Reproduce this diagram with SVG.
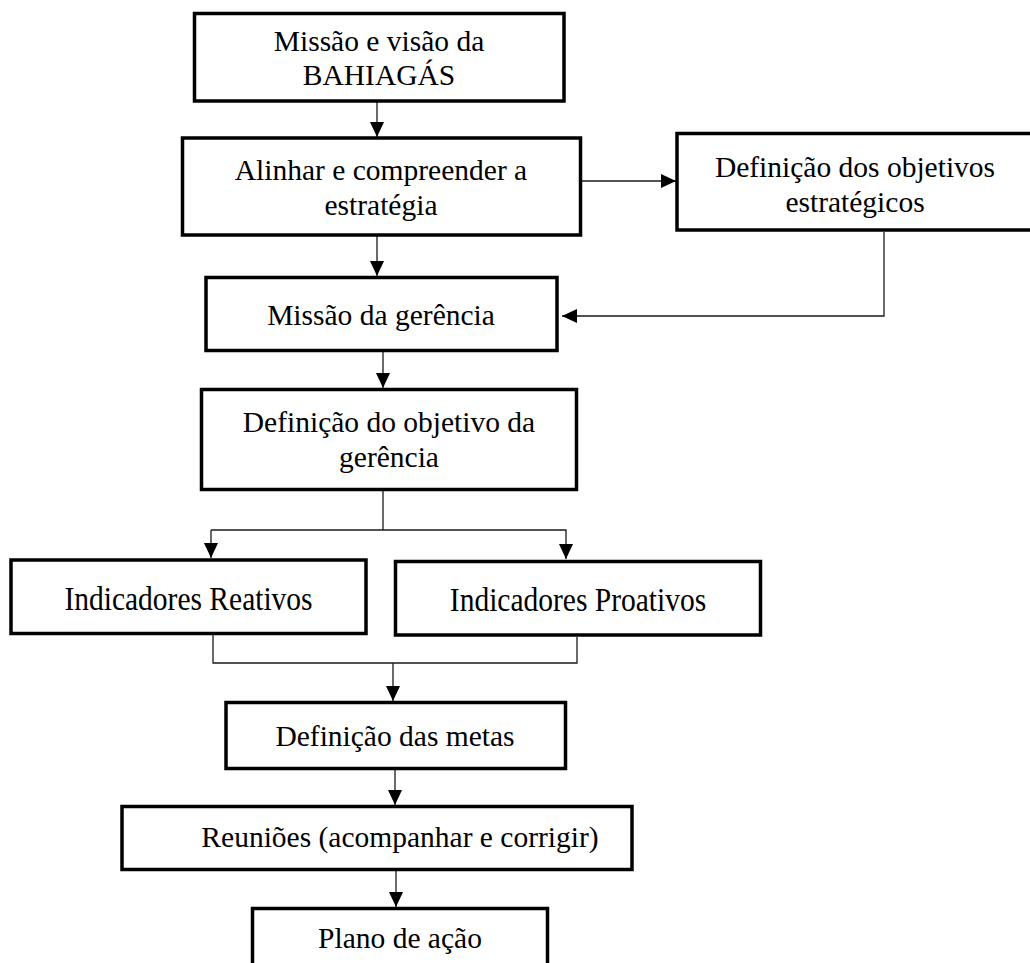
<svg xmlns="http://www.w3.org/2000/svg" width="1030" height="963" viewBox="0 0 1030 963">
  <style>
    .box { fill: #ffffff; stroke: #000000; stroke-width: 3.5; }
    .lbl { font-family: "Liberation Serif", "Times New Roman", serif; font-size: 29.5px; fill: #000000; text-anchor: middle; }
    .wire { fill: none; stroke: #1a1a1a; stroke-width: 1.3; }
  </style>
  <defs>
    <marker id="head" viewBox="0 0 15 14" refX="15" refY="7" markerWidth="15" markerHeight="14" markerUnits="userSpaceOnUse" orient="auto">
      <path d="M0,0 L15,7 L0,14 Z" fill="#000000"/>
    </marker>
  </defs>

  <rect width="1030" height="963" fill="#ffffff"/>

  <!-- connectors -->
  <g id="connectors">
    <line class="wire" x1="377" y1="102" x2="377" y2="137" marker-end="url(#head)"/>
    <line class="wire" x1="582" y1="181" x2="676" y2="181" marker-end="url(#head)"/>
    <line class="wire" x1="377" y1="236" x2="377" y2="276" marker-end="url(#head)"/>
    <polyline class="wire" points="884,232 884,316 562,316" marker-end="url(#head)"/>
    <line class="wire" x1="383" y1="352" x2="383" y2="388" marker-end="url(#head)"/>
    <line class="wire" x1="383" y1="491" x2="383" y2="530"/>
    <polyline class="wire" points="211,530 566,530 566,559" marker-end="url(#head)"/>
    <line class="wire" x1="211" y1="530" x2="211" y2="558" marker-end="url(#head)"/>
    <polyline class="wire" points="213,635 213,663 577,663 577,637"/>
    <line class="wire" x1="393" y1="663" x2="393" y2="701" marker-end="url(#head)"/>
    <line class="wire" x1="395" y1="770" x2="395" y2="805" marker-end="url(#head)"/>
    <line class="wire" x1="396" y1="871" x2="396" y2="907" marker-end="url(#head)"/>
  </g>

  <g id="missao-visao">
    <rect class="box" x="194.5" y="13.5" width="369.5" height="87.5"/>
    <text class="lbl" x="379" y="51">Missão e visão da</text>
    <text class="lbl" x="379" y="85">BAHIAGÁS</text>
  </g>

  <g id="alinhar-estrategia">
    <rect class="box" x="182.5" y="138" width="398" height="97"/>
    <text class="lbl" x="381" y="180">Alinhar e compreender a</text>
    <text class="lbl" x="381" y="215">estratégia</text>
  </g>

  <g id="objetivos-estrategicos">
    <rect class="box" x="677" y="133.5" width="356" height="96.5"/>
    <text class="lbl" x="855" y="177">Definição dos objetivos</text>
    <text class="lbl" x="855" y="212">estratégicos</text>
  </g>

  <g id="missao-gerencia">
    <rect class="box" x="206" y="277.5" width="351" height="73"/>
    <text class="lbl" x="381" y="325">Missão da gerência</text>
  </g>

  <g id="objetivo-gerencia">
    <rect class="box" x="201.5" y="389.5" width="375" height="100"/>
    <text class="lbl" x="389" y="432">Definição do objetivo da</text>
    <text class="lbl" x="389" y="467">gerência</text>
  </g>

  <g id="indicadores-reativos">
    <rect class="box" x="11" y="560" width="355" height="73.5"/>
    <text class="lbl" transform="translate(188.5 610) scale(1 1.13)">Indicadores Reativos</text>
  </g>

  <g id="indicadores-proativos">
    <rect class="box" x="395.5" y="561.5" width="365" height="73.5"/>
    <text class="lbl" transform="translate(578 611) scale(1 1.13)">Indicadores Proativos</text>
  </g>

  <g id="definicao-metas">
    <rect class="box" x="226" y="702.5" width="339.5" height="66"/>
    <text class="lbl" x="395" y="746">Definição das metas</text>
  </g>

  <g id="reunioes">
    <rect class="box" x="122" y="806.5" width="510" height="63"/>
    <text class="lbl" x="400" y="847">Reuniões (acompanhar e corrigir)</text>
  </g>

  <g id="plano-acao">
    <rect class="box" x="252.5" y="908.5" width="295" height="70"/>
    <text class="lbl" x="400" y="948">Plano de ação</text>
  </g>
</svg>
